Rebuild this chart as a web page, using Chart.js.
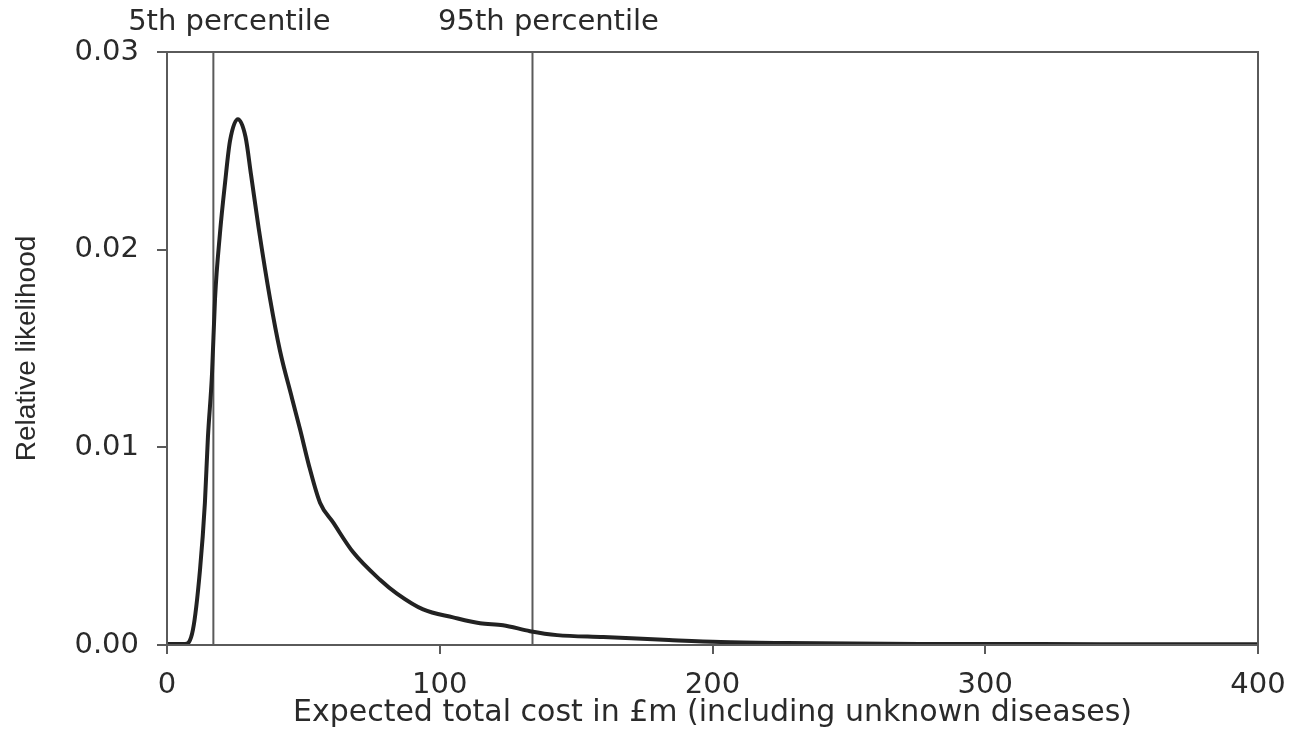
<!DOCTYPE html>
<html>
<head>
<meta charset="utf-8">
<script src="https://cdn.jsdelivr.net/npm/chart.js@4"></script>
<style>
  body { margin: 0; background: #fff; }
</style>
</head>
<body>
<canvas id="myChart" width="1301" height="754"></canvas>
<script>
// expected total cost (£m) and relative likelihood
const costValues = [0, 6.6, 9.5, 12.1, 13.9, 15, 16.5, 17.6, 19.4, 21.3, 23.1, 26, 28.8, 30.8, 33.6, 37.8, 41.4, 45.8, 48.8, 52.4, 56.1, 60.9, 68.2, 78.1, 84.3, 93.9, 104.9, 114.8, 123.2, 133.1, 143, 160, 184, 203, 227, 276, 320, 360, 400];
const likelihoodValues = [0.00005, 0.00005, 0.00076, 0.0038, 0.0072, 0.0105, 0.0137, 0.0175, 0.0208, 0.0234, 0.0255, 0.0266, 0.0257, 0.0238, 0.0211, 0.0175, 0.0149, 0.0125, 0.0109, 0.0089, 0.0072, 0.0062, 0.0047, 0.0033, 0.0026, 0.0018, 0.0014, 0.0011, 0.001, 0.0007, 0.0005, 0.0004, 0.00025, 0.00015, 0.0001, 0.00005, 0.00005, 0.00004, 0.00004];
const percentileValues = [17, 134];
const percentileLabels = ["5th percentile", "95th percentile"];
const xTicks = [0, 100, 200, 300, 400];
const yTicks = [0, 0.01, 0.02, 0.03];

document.addEventListener("DOMContentLoaded", () => {
  const ctx = document.getElementById("myChart");
  const frameColor = "#5a5a5a";
  const textColor = "#2a2a2a";

  const curve = costValues.map((c, i) => ({ x: c, y: likelihoodValues[i] }));
  const percentileSets = percentileValues.map((p) => ({
    data: [{ x: p, y: yTicks[0] }, { x: p, y: yTicks[yTicks.length - 1] }],
    borderColor: frameColor,
    borderWidth: 2,
    pointRadius: 0,
    tension: 0,
  }));

  // frame round the plot and labels above the percentile lines
  const framePlugin = {
    id: "frame",
    afterDatasetsDraw(chart) {
      const { ctx, chartArea, scales } = chart;
      ctx.save();
      ctx.strokeStyle = frameColor;
      ctx.lineWidth = 2;
      ctx.strokeRect(chartArea.left, chartArea.top, chartArea.right - chartArea.left, chartArea.bottom - chartArea.top);
      ctx.fillStyle = textColor;
      ctx.font = "29px 'DejaVu Sans'";
      ctx.textAlign = "center";
      ctx.textBaseline = "middle";
      percentileValues.forEach((p, i) => {
        ctx.fillText(percentileLabels[i], scales.x.getPixelForValue(p) + 16, 22);
      });
      ctx.restore();
    },
  };

  new Chart(ctx, {
    type: "line",
    data: {
      datasets: [
        {
          data: curve,
          borderColor: "#222",
          borderWidth: 4,
          pointRadius: 0,
          cubicInterpolationMode: "monotone",
        },
        ...percentileSets,
      ],
    },
    options: {
      responsive: false,
      animation: false,
      layout: { padding: { top: 52, right: 43, left: 0, bottom: 0 } },
      plugins: { legend: { display: false }, tooltip: { enabled: false } },
      scales: {
        x: {
          type: "linear",
          min: 0,
          max: 400,
          afterFit(scale) { scale.height = 109; },
          afterBuildTicks(scale) { scale.ticks = xTicks.map((v) => ({ value: v })); },
          grid: { drawOnChartArea: false, color: frameColor, lineWidth: 2, tickLength: 9 },
          border: { color: frameColor, width: 2 },
          ticks: { color: textColor, font: { family: "DejaVu Sans", size: 29 }, padding: 14, maxRotation: 0 },
          title: {
            display: true,
            text: "Expected total cost in £m (including unknown diseases)",
            color: textColor,
            font: { family: "DejaVu Sans", size: 30 },
            padding: { top: 0, bottom: 23 },
          },
        },
        y: {
          min: 0,
          max: 0.03,
          afterFit(scale) { scale.width = 167; },
          afterBuildTicks(scale) { scale.ticks = yTicks.map((v) => ({ value: v })); },
          grid: { drawOnChartArea: false, color: frameColor, lineWidth: 2, tickLength: 10 },
          border: { color: frameColor, width: 2 },
          ticks: { color: textColor, font: { family: "DejaVu Sans", size: 29 }, padding: 18, callback: (v) => v.toFixed(2) },
          title: {
            display: true,
            text: "Relative likelihood",
            color: textColor,
            font: { family: "Liberation Sans", size: 28 },
            padding: { top: 10, bottom: 0 },
          },
        },
      },
    },
    plugins: [framePlugin],
  });
});
</script>
</body>
</html>
